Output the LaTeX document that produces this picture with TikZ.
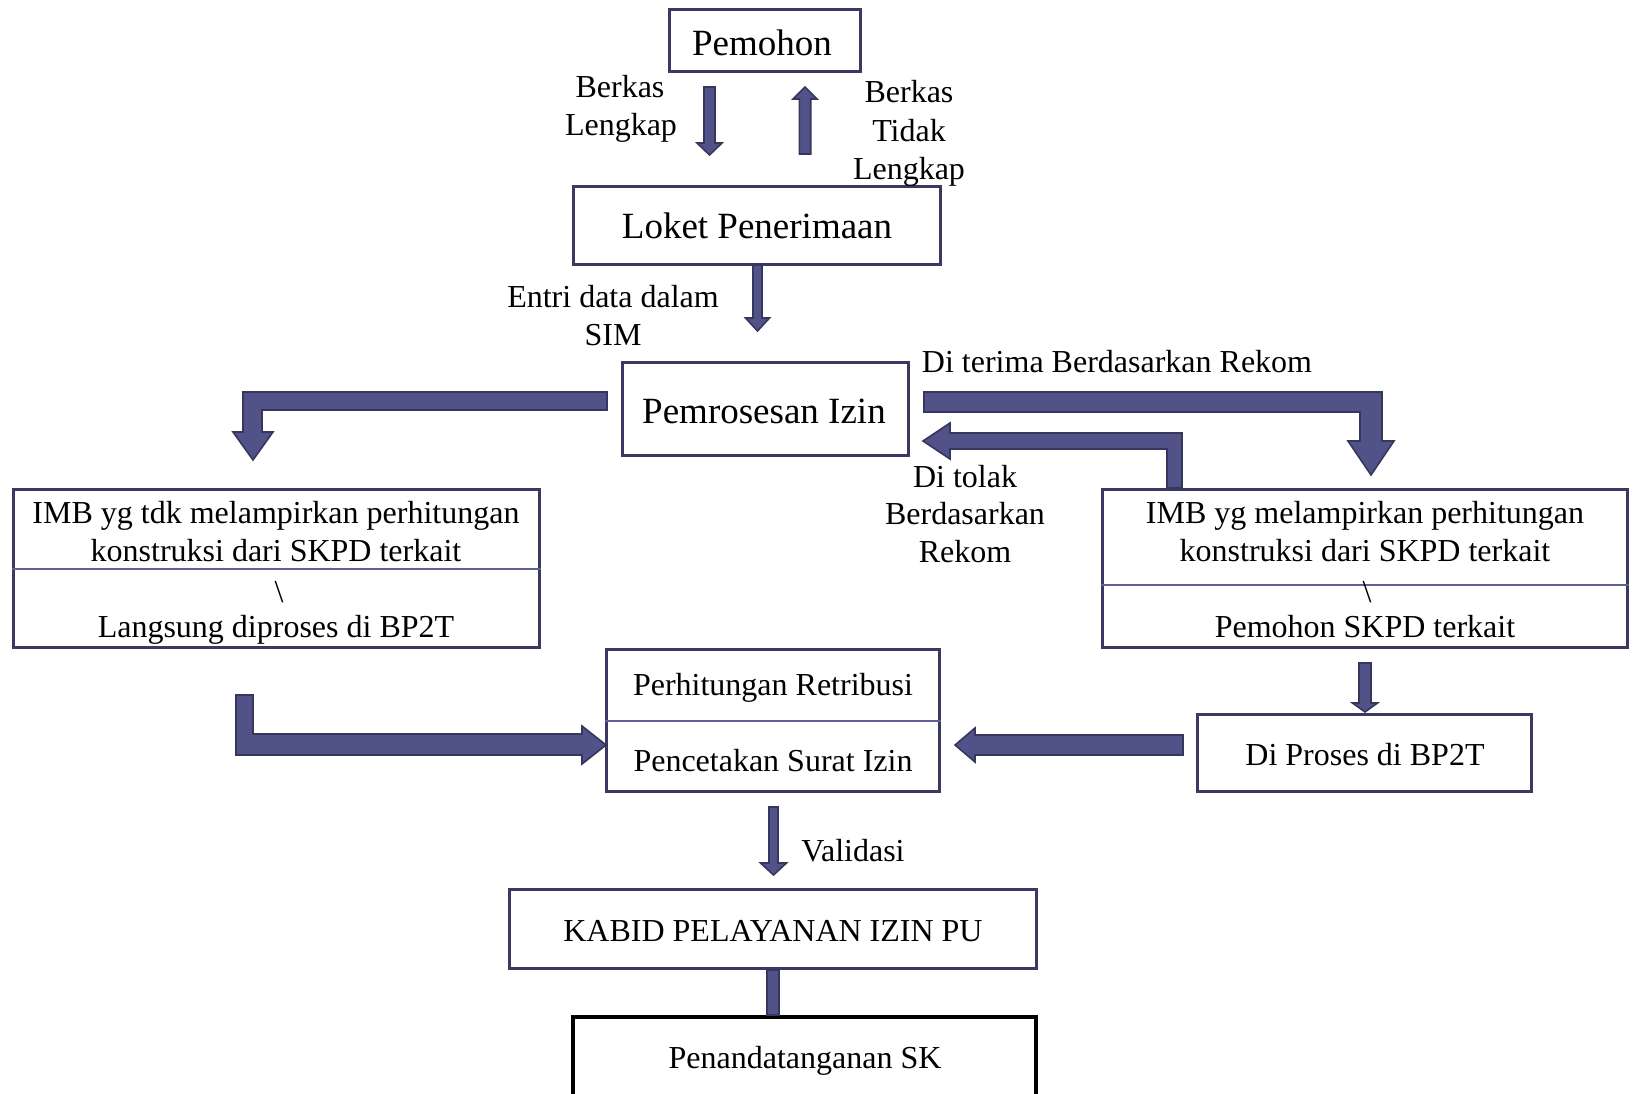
\documentclass[tikz,border=0pt]{standalone}
\usepackage{fontspec}
\setmainfont{Liberation Serif}
\usetikzlibrary{calc}
\definecolor{boxcol}{RGB}{58,57,98}
\definecolor{arrfill}{RGB}{80,82,136}
\definecolor{arrdraw}{RGB}{55,54,92}
\definecolor{divcol}{RGB}{95,97,150}
\newcommand\fsm{\fontsize{32pt}{38pt}\selectfont}
\newcommand\fbg{\fontsize{37pt}{44pt}\selectfont}
\tikzset{
  boxn/.style={draw=boxcol, line width=3pt, rectangle, inner sep=0pt},
  blk/.style={fill=arrfill, draw=arrdraw, line width=1.6pt, line join=miter},
  lbl/.style={font=\fsm, anchor=base, inner sep=0pt},
  big/.style={font=\fbg, anchor=base, inner sep=0pt},
  divl/.style={draw=divcol, line width=1.5pt}
}
% vertical block arrow between two named coordinates
\newcommand\blkv[5]{%
  \filldraw[blk] let \p1=(#1), \p2=(#2), \n1={sign(\y2-\y1)} in
   (\x1-#3,\y1) -- (\x1+#3,\y1) -- (\x1+#3,\y2-\n1*#5) -- (\x1+#4,\y2-\n1*#5)
   -- (\x2,\y2) -- (\x1-#4,\y2-\n1*#5) -- (\x1-#3,\y2-\n1*#5) -- cycle;}
% horizontal block arrow between two named coordinates
\newcommand\blkh[5]{%
  \filldraw[blk] let \p1=(#1), \p2=(#2), \n1={sign(\x2-\x1)} in
   (\x1,\y1-#3) -- (\x1,\y1+#3) -- (\x2-\n1*#5,\y1+#3) -- (\x2-\n1*#5,\y1+#4)
   -- (\x2,\y2) -- (\x2-\n1*#5,\y1-#4) -- (\x2-\n1*#5,\y1-#3) -- cycle;}
\begin{document}
\begin{tikzpicture}[x=1pt,y=-1pt]
\useasboundingbox (0,0) rectangle (1634,1093);
\clip (0,0) rectangle (1634,1093);

% boxes
\node[boxn, minimum width=191pt, minimum height=62pt] (pemohon) at (765,40) {};
\node[boxn, minimum width=367pt, minimum height=78pt] (loket) at (757,225) {};
\node[boxn, minimum width=286pt, minimum height=93pt] (pros) at (765.5,408.5) {};
\node[boxn, minimum width=526pt, minimum height=158pt] (imbL) at (276.5,568.5) {};
\node[boxn, minimum width=525pt, minimum height=158pt] (imbR) at (1365,568.5) {};
\node[boxn, minimum width=333pt, minimum height=142pt] (hitung) at (773,720.5) {};
\node[boxn, minimum width=334pt, minimum height=77pt] (proses) at (1364.5,753) {};
\node[boxn, minimum width=527pt, minimum height=79pt] (kabid) at (773,929) {};
\node[draw=black, line width=4pt, rectangle, inner sep=0pt, minimum width=463pt, minimum height=120pt] (ttd) at (804.5,1077) {};

% dividers
\draw[divl] (imbL.west |- 0,569) -- (imbL.east |- 0,569);
\draw[divl] (imbR.west |- 0,585) -- (imbR.east |- 0,585);
\draw[divl] (hitung.west |- 0,721) -- (hitung.east |- 0,721);

% texts in boxes
\node[big] (tpemohon) at (762,55) {Pemohon};
\node[big] (tloket) at (757,238) {Loket Penerimaan};
\node[big] (tpros) at (764,423) {Pemrosesan Izin};
\node[lbl] (tL1) at (276,523) {IMB yg tdk melampirkan perhitungan};
\node[lbl] (tL2) at (276,561) {konstruksi dari SKPD terkait};
\node[lbl] (tL3) at (279,602) {\textbackslash};
\node[lbl] (tL4) at (276,637) {Langsung diproses di BP2T};
\node[lbl] (tR1) at (1365,523) {IMB yg melampirkan perhitungan};
\node[lbl] (tR2) at (1365,561) {konstruksi dari SKPD terkait};
\node[lbl] (tR3) at (1367,602) {\textbackslash};
\node[lbl] (tR4) at (1365,637) {Pemohon SKPD terkait};
\node[lbl] (th1) at (773,695) {Perhitungan Retribusi};
\node[lbl] (th2) at (773,771) {Pencetakan Surat Izin};
\node[lbl] (tproses) at (1365,765) {Di Proses di BP2T};
\node[lbl] (tkabid) at (773,941) {KABID PELAYANAN IZIN PU};
\node[lbl] (tttd) at (805,1068) {Penandatanganan SK};

% labels
\node[lbl] (lbk1) at (620,97) {Berkas};
\node[lbl] (lbk2) at (621,135) {Lengkap};
\node[lbl] (lbt1) at (909,102) {Berkas};
\node[lbl] (lbt2) at (909,141) {Tidak};
\node[lbl] (lbt3) at (909,179) {Lengkap};
\node[lbl] (lent1) at (613,307) {Entri data dalam};
\node[lbl] (lent2) at (613,345) {SIM};
\node[lbl] (lterima) at (1117,372) {Di terima Berdasarkan Rekom};
\node[lbl] (ltolak1) at (965,487) {Di tolak};
\node[lbl] (ltolak2) at (965,524) {Berdasarkan};
\node[lbl] (ltolak3) at (965,562) {Rekom};
\node[lbl] (lvalid) at (853,861) {Validasi};

% arrow end points
\coordinate (a1s) at (709.5,87);   \coordinate (a1t) at (709.5,155);
\coordinate (a2s) at (805,154);    \coordinate (a2t) at (805,87);
\coordinate (a3s) at (757.5,265);  \coordinate (a3t) at (757.5,331);
\coordinate (a9s) at (1365,663);   \coordinate (a9t) at (1365,712);
\coordinate (a10s) at (773.5,807); \coordinate (a10t) at (773.5,875);
\coordinate (a8s) at (1183,745);   \coordinate (a8t) at (955,745);

\blkv{a1s}{a1t}{5.5pt}{12.5pt}{12pt}
\blkv{a2s}{a2t}{5.7pt}{12pt}{12pt}
\blkv{a3s}{a3t}{4.5pt}{12pt}{13pt}
\blkv{a9s}{a9t}{6pt}{12.5pt}{9pt}
\blkv{a10s}{a10t}{4.5pt}{13pt}{12pt}
\blkh{a8s}{a8t}{10pt}{17pt}{20pt}

% bar between KABID and Penandatanganan
\filldraw[blk] (kabid.south -| 767,0) rectangle (ttd.north -| 779,0);

% bent arrows
% to left IMB box
\filldraw[blk] (607,392) -- (243,392) -- (243,432) -- (233,432) -- (253,460)
  -- (273,432) -- (262,432) -- (262,410) -- (607,410) -- cycle;
% Di terima (to right IMB box)
\filldraw[blk] (924,392) -- (1382,392) -- (1382,441) -- (1394,441) -- (1371,475)
  -- (1348,441) -- (1360,441) -- (1360,412) -- (924,412) -- cycle;
% Di tolak (back to Pemrosesan)
\filldraw[blk] (1182,488) -- (1182,433) -- (950,433) -- (950,423) -- (923,441)
  -- (950,459) -- (950,449) -- (1167,449) -- (1167,488) -- cycle;
% left IMB to Perhitungan
\filldraw[blk] (236,695) -- (253,695) -- (253,734) -- (582,734) -- (582,726)
  -- (606,745) -- (582,764) -- (582,755) -- (236,755) -- cycle;
\end{tikzpicture}
\end{document}
